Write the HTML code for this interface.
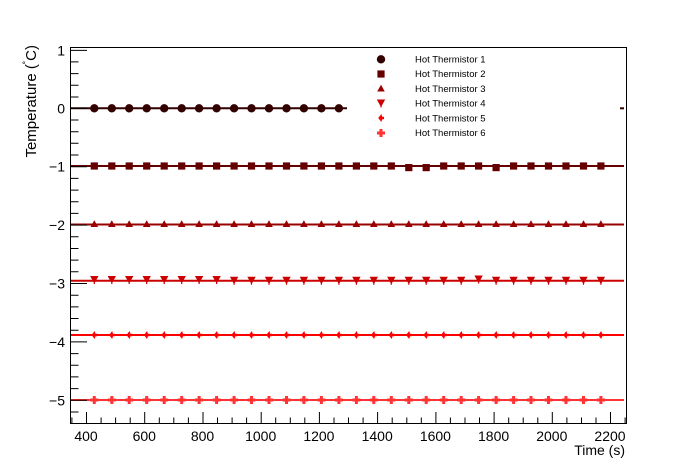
<!DOCTYPE html>
<html><head><meta charset="utf-8"><style>
html,body{margin:0;padding:0;background:#fff;}
svg{display:block;}
text{font-family:"Liberation Sans",Arial,sans-serif;}
</style></head><body>
<svg width="696" height="472" viewBox="0 0 696 472" xmlns="http://www.w3.org/2000/svg">
<defs>
<circle id="m1" cx="0" cy="0" r="4.2" fill="#330000"/>
<rect id="m2" x="-3.6" y="-3.6" width="7.2" height="7.2" fill="#660000"/>
<polygon id="m3" points="0,-3.8 3.8,3 -3.8,3" fill="#990000"/>
<polygon id="m4" points="-4.2,-3.5 4.2,-3.5 0.6,3 0.6,4.5 -0.6,4.5 -0.6,3" fill="#cc0000"/>
<path id="m5" d="M0.4,-4 L1.2,-1.2 L3,-1.2 L3,1.2 L1.2,1.2 L0.4,4 L-2.8,0 Z" fill="#ff0000"/>
<path id="m6" d="M-1.5,-4 H1.5 V-1.5 H4 V1.5 H1.5 V4 H-1.5 V1.5 H-4 V-1.5 H-1.5 Z" fill="#ff3333"/>
</defs>
<rect width="696" height="472" fill="#fff"/>

<!-- series lines -->
<g stroke-width="2" fill="none">
<line x1="71" y1="108.3" x2="347" y2="108.3" stroke="#330000"/>
<line x1="620" y1="108.3" x2="624" y2="108.3" stroke="#330000"/>
<line x1="71" y1="166" x2="624" y2="166" stroke="#660000"/>
<line x1="71" y1="224.5" x2="624" y2="224.5" stroke="#990000"/>
<line x1="71" y1="280.7" x2="624" y2="280.7" stroke="#cc0000"/>
<line x1="71" y1="335" x2="624" y2="335" stroke="#ff0000"/>
<line x1="71" y1="400" x2="624" y2="400" stroke="#ff3333"/>
</g>

<!-- series 1 -->
<g>
<use href="#m1" x="94.3" y="108.3"/><use href="#m1" x="111.8" y="108.3"/><use href="#m1" x="129.2" y="108.3"/><use href="#m1" x="146.7" y="108.3"/><use href="#m1" x="164.2" y="108.3"/><use href="#m1" x="181.7" y="108.3"/><use href="#m1" x="199.1" y="108.3"/><use href="#m1" x="216.6" y="108.3"/><use href="#m1" x="234.1" y="108.3"/><use href="#m1" x="251.5" y="108.3"/><use href="#m1" x="269.0" y="108.3"/><use href="#m1" x="286.5" y="108.3"/><use href="#m1" x="303.9" y="108.3"/><use href="#m1" x="321.4" y="108.3"/><use href="#m1" x="338.9" y="108.3"/>
</g>
<!-- series 2 -->
<g>
<use href="#m2" x="94.3" y="166"/><use href="#m2" x="111.8" y="166"/><use href="#m2" x="129.2" y="166"/><use href="#m2" x="146.7" y="166"/><use href="#m2" x="164.2" y="166"/><use href="#m2" x="181.7" y="166"/><use href="#m2" x="199.1" y="166"/><use href="#m2" x="216.6" y="166"/><use href="#m2" x="234.1" y="166"/><use href="#m2" x="251.5" y="166"/><use href="#m2" x="269.0" y="166"/><use href="#m2" x="286.5" y="166"/><use href="#m2" x="303.9" y="166"/><use href="#m2" x="321.4" y="166"/><use href="#m2" x="338.9" y="166"/><use href="#m2" x="356.4" y="166"/><use href="#m2" x="373.8" y="166"/><use href="#m2" x="391.3" y="166"/><use href="#m2" x="408.8" y="167.6"/><use href="#m2" x="426.2" y="167.6"/><use href="#m2" x="443.7" y="166"/><use href="#m2" x="461.2" y="166"/><use href="#m2" x="478.6" y="166"/><use href="#m2" x="496.1" y="167.6"/><use href="#m2" x="513.6" y="166"/><use href="#m2" x="531.0" y="166"/><use href="#m2" x="548.5" y="166"/><use href="#m2" x="566.0" y="166"/><use href="#m2" x="583.5" y="166"/><use href="#m2" x="600.9" y="166"/>
</g>
<!-- series 3 -->
<g>
<use href="#m3" x="94.3" y="224"/><use href="#m3" x="111.8" y="224"/><use href="#m3" x="129.2" y="224"/><use href="#m3" x="146.7" y="224"/><use href="#m3" x="164.2" y="224"/><use href="#m3" x="181.7" y="224"/><use href="#m3" x="199.1" y="224"/><use href="#m3" x="216.6" y="224"/><use href="#m3" x="234.1" y="224"/><use href="#m3" x="251.5" y="224"/><use href="#m3" x="269.0" y="224"/><use href="#m3" x="286.5" y="224"/><use href="#m3" x="303.9" y="224"/><use href="#m3" x="321.4" y="224"/><use href="#m3" x="338.9" y="224"/><use href="#m3" x="356.4" y="224"/><use href="#m3" x="373.8" y="224"/><use href="#m3" x="391.3" y="224"/><use href="#m3" x="408.8" y="224"/><use href="#m3" x="426.2" y="224"/><use href="#m3" x="443.7" y="224"/><use href="#m3" x="461.2" y="224"/><use href="#m3" x="478.6" y="224"/><use href="#m3" x="496.1" y="224"/><use href="#m3" x="513.6" y="224"/><use href="#m3" x="531.0" y="224"/><use href="#m3" x="548.5" y="224"/><use href="#m3" x="566.0" y="224"/><use href="#m3" x="583.5" y="224"/><use href="#m3" x="600.9" y="224"/>
</g>
<!-- series 4 -->
<g>
<use href="#m4" x="94.3" y="279.5"/><use href="#m4" x="111.8" y="279.5"/><use href="#m4" x="129.2" y="279.5"/><use href="#m4" x="146.7" y="279.5"/><use href="#m4" x="164.2" y="279.5"/><use href="#m4" x="181.7" y="279.5"/><use href="#m4" x="199.1" y="279.5"/><use href="#m4" x="216.6" y="279.5"/><use href="#m4" x="234.1" y="280.3"/><use href="#m4" x="251.5" y="280.3"/><use href="#m4" x="269.0" y="280.3"/><use href="#m4" x="286.5" y="280.3"/><use href="#m4" x="303.9" y="280.3"/><use href="#m4" x="321.4" y="280.3"/><use href="#m4" x="338.9" y="280.3"/><use href="#m4" x="356.4" y="280.3"/><use href="#m4" x="373.8" y="280.3"/><use href="#m4" x="391.3" y="280.3"/><use href="#m4" x="408.8" y="280.3"/><use href="#m4" x="426.2" y="280.3"/><use href="#m4" x="443.7" y="280.3"/><use href="#m4" x="461.2" y="280.3"/><use href="#m4" x="478.6" y="279"/><use href="#m4" x="496.1" y="280.3"/><use href="#m4" x="513.6" y="280.3"/><use href="#m4" x="531.0" y="280.3"/><use href="#m4" x="548.5" y="280.3"/><use href="#m4" x="566.0" y="280.3"/><use href="#m4" x="583.5" y="280.3"/><use href="#m4" x="600.9" y="280.3"/>
</g>
<!-- series 5 -->
<g>
<use href="#m5" x="94.3" y="335"/><use href="#m5" x="111.8" y="335"/><use href="#m5" x="129.2" y="335"/><use href="#m5" x="146.7" y="335"/><use href="#m5" x="164.2" y="335"/><use href="#m5" x="181.7" y="335"/><use href="#m5" x="199.1" y="335"/><use href="#m5" x="216.6" y="335"/><use href="#m5" x="234.1" y="335"/><use href="#m5" x="251.5" y="335"/><use href="#m5" x="269.0" y="335"/><use href="#m5" x="286.5" y="335"/><use href="#m5" x="303.9" y="335"/><use href="#m5" x="321.4" y="335"/><use href="#m5" x="338.9" y="335"/><use href="#m5" x="356.4" y="335"/><use href="#m5" x="373.8" y="335"/><use href="#m5" x="391.3" y="335"/><use href="#m5" x="408.8" y="335"/><use href="#m5" x="426.2" y="335"/><use href="#m5" x="443.7" y="335"/><use href="#m5" x="461.2" y="335"/><use href="#m5" x="478.6" y="335"/><use href="#m5" x="496.1" y="335"/><use href="#m5" x="513.6" y="335"/><use href="#m5" x="531.0" y="335"/><use href="#m5" x="548.5" y="335"/><use href="#m5" x="566.0" y="335"/><use href="#m5" x="583.5" y="335"/><use href="#m5" x="600.9" y="335"/>
</g>
<!-- series 6 -->
<g>
<use href="#m6" x="94.3" y="400"/><use href="#m6" x="111.8" y="400"/><use href="#m6" x="129.2" y="400"/><use href="#m6" x="146.7" y="400"/><use href="#m6" x="164.2" y="400"/><use href="#m6" x="181.7" y="400"/><use href="#m6" x="199.1" y="400"/><use href="#m6" x="216.6" y="400"/><use href="#m6" x="234.1" y="400"/><use href="#m6" x="251.5" y="400"/><use href="#m6" x="269.0" y="400"/><use href="#m6" x="286.5" y="400"/><use href="#m6" x="303.9" y="400"/><use href="#m6" x="321.4" y="400"/><use href="#m6" x="338.9" y="400"/><use href="#m6" x="356.4" y="400"/><use href="#m6" x="373.8" y="400"/><use href="#m6" x="391.3" y="400"/><use href="#m6" x="408.8" y="400"/><use href="#m6" x="426.2" y="400"/><use href="#m6" x="443.7" y="400"/><use href="#m6" x="461.2" y="400"/><use href="#m6" x="478.6" y="400"/><use href="#m6" x="496.1" y="400"/><use href="#m6" x="513.6" y="400"/><use href="#m6" x="531.0" y="400"/><use href="#m6" x="548.5" y="400"/><use href="#m6" x="566.0" y="400"/><use href="#m6" x="583.5" y="400"/><use href="#m6" x="600.9" y="400"/>
</g>

<!-- frame -->
<rect x="70.5" y="47.5" width="556" height="376" fill="none" stroke="#000" stroke-width="1"/>

<!-- y ticks -->
<g stroke="#000" stroke-width="1">
<path d="M70,50.4 h17 M70,108.3 h17 M70,166.7 h17 M70,225.1 h17 M70,283.5 h17 M70,341.9 h17 M70,400.3 h17"/>
<path d="M70,61.9 h8.5 M70,73.6 h8.5 M70,85.3 h8.5 M70,97.0 h8.5
M70,120.0 h8.5 M70,131.7 h8.5 M70,143.3 h8.5 M70,155.0 h8.5
M70,178.4 h8.5 M70,190.1 h8.5 M70,201.7 h8.5 M70,213.4 h8.5
M70,236.8 h8.5 M70,248.5 h8.5 M70,260.1 h8.5 M70,271.8 h8.5
M70,295.2 h8.5 M70,306.9 h8.5 M70,318.5 h8.5 M70,330.2 h8.5
M70,353.6 h8.5 M70,365.3 h8.5 M70,376.9 h8.5 M70,388.6 h8.5
M70,412.0 h8.5"/>
</g>
<!-- x ticks -->
<g stroke="#000" stroke-width="1">
<path d="M86.5,423 v-11 M144.7,423 v-11 M203,423 v-11 M261.2,423 v-11 M319.4,423 v-11 M377.6,423 v-11 M435.9,423 v-11 M494.1,423 v-11 M552.3,423 v-11 M610.5,423 v-11"/>
<path d="M71.9,423 v-5.5 M101.1,423 v-5.5 M115.6,423 v-5.5 M130.2,423 v-5.5 M159.3,423 v-5.5 M173.8,423 v-5.5 M188.4,423 v-5.5 M217.5,423 v-5.5 M232.1,423 v-5.5 M246.6,423 v-5.5 M275.7,423 v-5.5 M290.3,423 v-5.5 M304.8,423 v-5.5 M334,423 v-5.5 M348.5,423 v-5.5 M363.1,423 v-5.5 M392.2,423 v-5.5 M406.8,423 v-5.5 M421.3,423 v-5.5 M450.4,423 v-5.5 M465,423 v-5.5 M479.5,423 v-5.5 M508.7,423 v-5.5 M523.2,423 v-5.5 M537.8,423 v-5.5 M566.9,423 v-5.5 M581.5,423 v-5.5 M596,423 v-5.5 M625.1,423 v-5.5"/>
</g>

<!-- y tick labels -->
<g font-size="14" fill="#000" text-anchor="end">
<text x="65" y="55.5">1</text>
<text x="65" y="113.5">0</text>
<text x="65" y="171.5">−1</text>
<text x="65" y="230">−2</text>
<text x="65" y="288.5">−3</text>
<text x="65" y="347">−4</text>
<text x="65" y="405.5">−5</text>
</g>
<!-- x tick labels -->
<g font-size="14" fill="#000" text-anchor="middle">
<text x="86" y="441">400</text>
<text x="144.3" y="441">600</text>
<text x="202.5" y="441">800</text>
<text x="260.7" y="441">1000</text>
<text x="318.9" y="441">1200</text>
<text x="377.2" y="441">1400</text>
<text x="435.4" y="441">1600</text>
<text x="493.6" y="441">1800</text>
<text x="551.8" y="441">2000</text>
<text x="610" y="441">2200</text>
</g>

<!-- axis titles -->
<text x="625" y="455" font-size="14" text-anchor="end">Time (s)</text>
<text transform="translate(36,45) rotate(-90)" font-size="15" text-anchor="end">Temperature (<tspan dy="-5" font-size="10">˚</tspan><tspan dy="5">C)</tspan></text>

<!-- legend -->
<g>
<use href="#m1" x="381" y="59.3"/>
<use href="#m2" x="381" y="74"/>
<use href="#m3" x="381" y="88.5"/>
<use href="#m4" x="381" y="103"/>
<use href="#m5" x="381" y="118"/>
<use href="#m6" x="381" y="133"/>
</g>
<g font-size="9.5" fill="#000">
<text x="415" y="62.5">Hot Thermistor 1</text>
<text x="415" y="77.2">Hot Thermistor 2</text>
<text x="415" y="91.9">Hot Thermistor 3</text>
<text x="415" y="106.6">Hot Thermistor 4</text>
<text x="415" y="121.3">Hot Thermistor 5</text>
<text x="415" y="136">Hot Thermistor 6</text>
</g>
</svg>
</body></html>
